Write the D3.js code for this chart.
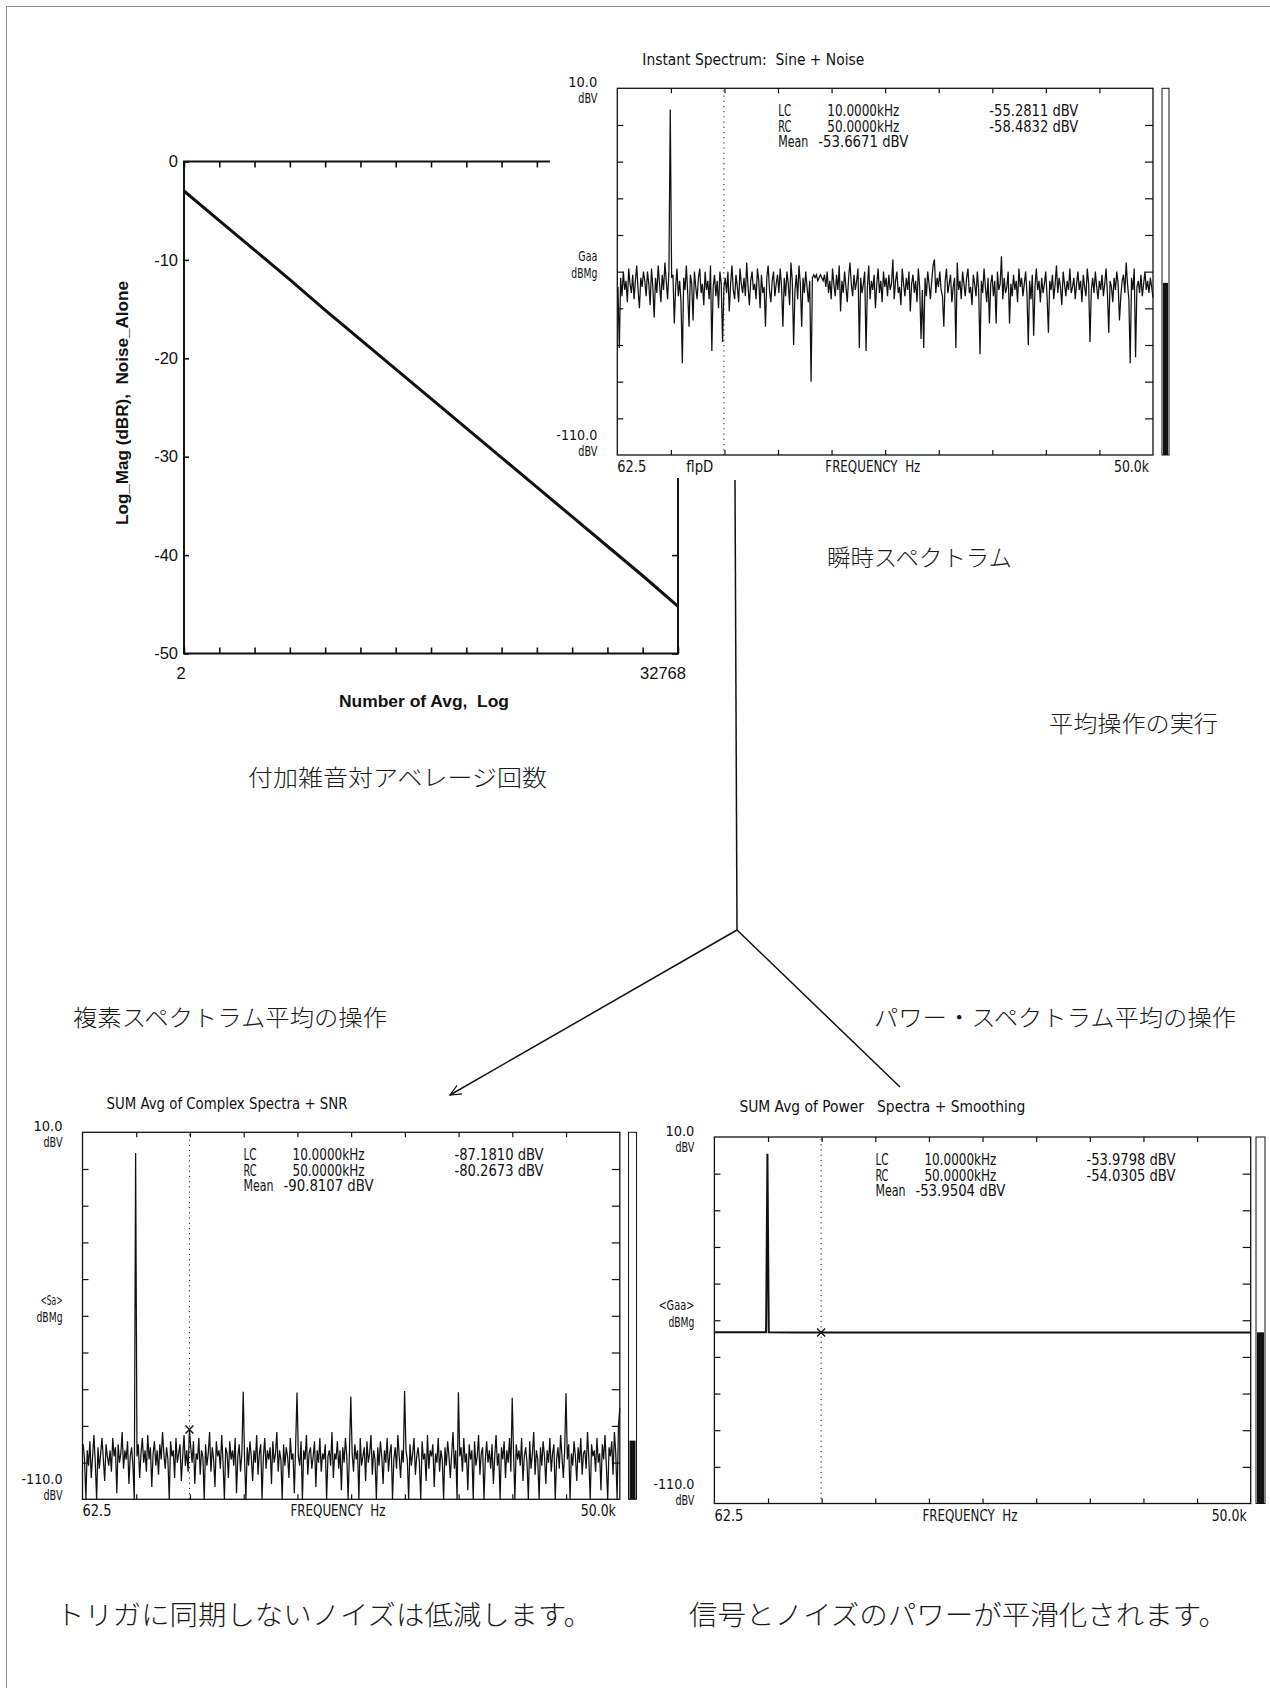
<!DOCTYPE html>
<html>
<head>
<meta charset="utf-8">
<script src="https://cdn.jsdelivr.net/npm/d3@7"></script>
<style>
  html, body { margin: 0; padding: 0; background: #fff; }
  svg { display: block; }
  text { white-space: pre; }
</style>
</head>
<body>
<svg id="page" width="1270" height="1688"></svg>
<script>
// ---------------- data ----------------
// Added noise vs. number of averages (log2 axis)
const avgCounts = [2, 4, 8, 16, 32, 64, 128, 256, 512, 1024, 2048, 4096, 8192, 16384, 32768];
const noiseAloneDb = [-3.0, -6.0, -9.0, -12.0, -15.1, -18.1, -21.1, -24.1, -27.1, -30.1, -33.1, -36.1, -39.1, -42.1, -45.2];
const noiseAxisTicks = [0, -10, -20, -30, -40, -50];
const avgTickLabels = ["2", "32768"];

// Analyzer display: 400 lines, 125 Hz apart, 125 Hz .. 50 kHz
const freqSpanHz = [62.5, 50000];
const dbvSpan = [-110, 10];
const binWidthHz = 125;
const cursorHz = [10000, 50000];   // LC, RC

// Instant spectrum: sine (5 kHz) + noise
const instantDbv = [
  -55,-75,-52,-58,-50,-56,-53,-60,-49,-54,-57,-51,-59,-53,-48,-56,-62,-52,-55,-50,
  -53,-58,-50,-54,-61,-49,-55,-65,-52,-57,-48,-54,-60,-51,-56,-47,-53,-59,-50,3.1,
  -52,-51,-67,-55,-49,-58,-53,-60,-80,-52,-56,-48,-57,-68,-51,-54,-66,-50,-55,-59,
  -52,-49,-57,-54,-61,-50,-56,-53,-59,-48,-76,-55,-51,-58,-53,-62,-50,-54,-73,-55.2811,
  -52,-57,-50,-63,-54,-48,-56,-59,-51,-55,-60,-49,-54,-57,-52,-58,-47,-55,-61,-53,
  -50,-56,-54,-59,-49,-53,-62,-51,-57,-55,-68,-52,-48,-56,-60,-53,-50,-58,-54,-51,
  -57,-49,-55,-68,-52,-58,-50,-54,-61,-47,-53,-74,-56,-51,-59,-48,-54,-68,-52,-57,
  -50,-55,-60,-53,-86,-52,-51,-52,-51,-53,-52,-51,-52,-53,-51,-55,-50,-57,-53,-59,
  -49,-54,-58,-51,-56,-48,-63,-53,-57,-50,-55,-60,-52,-47,-54,-58,-51,-56,-53,-49,
  -75,-52,-57,-54,-50,-76,-55,-48,-59,-53,-56,-51,-62,-54,-49,-57,-53,-60,-50,-55,
  -52,-58,-51,-56,-54,-46,-59,-53,-50,-57,-55,-61,-49,-54,-58,-52,-56,-50,-63,-54,
  -51,-57,-53,-60,-49,-55,-72,-56,-75,-52,-58,-50,-54,-59,-53,-48,-46,-57,-52,-55,
  -50,-56,-58,-68,-53,-49,-57,-54,-51,-60,-55,-52,-75,-47,-56,-53,-59,-50,-54,-58,
  -52,-49,-57,-55,-61,-51,-54,-58,-50,-56,-77,-53,-57,-49,-55,-60,-52,-67,-54,-51,
  -58,-53,-67,-50,-56,-54,-45,-59,-52,-57,-55,-50,-67,-54,-58,-51,-56,-53,-60,-49,
  -55,-52,-58,-54,-50,-57,-74,-53,-59,-51,-71,-55,-49,-56,-53,-60,-52,-57,-54,-50,
  -58,-70,-53,-56,-51,-59,-54,-48,-57,-52,-55,-61,-50,-54,-58,-53,-56,-49,-57,-55,
  -52,-59,-54,-50,-56,-53,-60,-51,-55,-58,-49,-54,-73,-56,-52,-57,-50,-55,-59,-53,
  -56,-51,-58,-54,-49,-57,-70,-53,-55,-60,-52,-56,-50,-54,-66,-58,-53,-51,-57,-47,
  -54,-59,-80,-52,-56,-49,-78,-55,-53,-57,-51,-58,-54,-50,-56,-53,-57,-52,-55,-58.4832
];
const instantMeanDbv = -53.6671;

// Sum average of complex spectra (time-synchronous averaging)
const complexAvgDbv = [
  -92,-97,-110,-94,-99,-91,-103,-96,-89,-98,-110,-93,-100,-95,-90,-97,-104,-92,-96,-99,
  -94,-101,-90,-96,-93,-108,-92,-98,-95,-88,-100,-94,-97,-91,-105,-96,-93,-99,-110,3.2,
  -96,-92,-103,-95,-90,-98,-94,-101,-89,-97,-93,-106,-95,-91,-99,-94,-102,-92,-97,-88,
  -95,-100,-93,-97,-110,-91,-96,-94,-103,-90,-98,-95,-92,-104,-96,-89,-99,-94,-101,-87.181,
  -93,-98,-91,-105,-95,-97,-90,-102,-94,-96,-110,-92,-99,-95,-88,-101,-93,-97,-106,-91,
  -96,-94,-100,-89,-98,-110,-93,-95,-103,-91,-97,-94,-99,-90,-108,-96,-92,-101,-95,-74.8,
  -97,-110,-93,-99,-91,-96,-104,-94,-98,-89,-102,-95,-92,-110,-96,-90,-100,-94,-97,-93,
  -105,-91,-98,-95,-88,-101,-94,-97,-110,-92,-99,-93,-96,-103,-90,-97,-95,-108,-92,-75.1,
  -96,-99,-91,-110,-94,-97,-89,-102,-95,-93,-100,-96,-91,-106,-94,-98,-90,-101,-95,-97,
  -92,-110,-96,-94,-99,-88,-103,-95,-97,-91,-100,-94,-107,-93,-98,-90,-96,-110,-94,-76.4,
  -95,-101,-92,-97,-94,-110,-90,-99,-96,-93,-104,-91,-98,-95,-89,-102,-94,-97,-110,-93,
  -99,-91,-96,-105,-94,-98,-90,-101,-95,-92,-110,-97,-93,-100,-89,-96,-103,-94,-98,-74.6,
  -94,-97,-110,-92,-99,-95,-90,-102,-96,-93,-98,-110,-91,-97,-95,-104,-89,-100,-94,-96,
  -92,-106,-95,-98,-90,-101,-94,-97,-110,-93,-99,-91,-96,-103,-95,-88,-100,-94,-110,-75.0,
  -96,-93,-101,-90,-98,-95,-107,-92,-97,-94,-110,-91,-99,-96,-89,-102,-95,-93,-110,-97,
  -91,-98,-94,-100,-92,-105,-96,-89,-99,-95,-110,-93,-97,-91,-103,-94,-98,-90,-101,-76.8,
  -95,-110,-92,-97,-94,-99,-90,-104,-96,-93,-98,-110,-91,-100,-95,-88,-102,-94,-97,-110,
  -93,-99,-91,-96,-105,-94,-98,-90,-101,-95,-92,-110,-97,-93,-100,-89,-96,-103,-94,-75.3,
  -97,-92,-110,-95,-99,-91,-96,-104,-93,-98,-90,-102,-95,-94,-100,-88,-97,-110,-92,-96,
  -94,-101,-90,-98,-95,-107,-92,-97,-89,-99,-110,-93,-96,-91,-102,-88,-95,-110,-86,-80.2673
];
const complexMeanDbv = -90.8107;

// Sum average of power spectra (smoothed)
const powerAvgHz = [125, 2500, 4875, 5000, 5125, 7500, 10000, 12500, 15000, 17500, 20000, 22500,
                    25000, 27500, 30000, 32500, 35000, 37500, 40000, 42500, 45000, 47500, 50000];
const powerAvgDbv = [-53.93, -53.95, -53.96, 4.5, -53.96, -53.97, -53.9798, -53.98, -53.99, -53.99, -54.00, -54.00,
                     -54.00, -54.01, -54.01, -54.01, -54.02, -54.02, -54.02, -54.02, -54.03, -54.03, -54.0305];
const powerMeanDbv = -53.9504;

// ---------------- drawing ----------------
const svg = d3.select("#page");
const INK = "#111";
const INSTR = "'Liberation Sans Narrow','Arial Narrow','DejaVu Sans Condensed','DejaVu Sans',sans-serif";
const ARIAL = "'Liberation Sans',Arial,Helvetica,sans-serif";
const JP = "'Noto Sans CJK JP','Noto Sans CJK SC',sans-serif";

function addText(parent, x, y, str, o = {}) {
  const t = parent.append("text")
    .attr("x", x).attr("y", y).text(str)
    .attr("font-family", o.family || INSTR)
    .attr("font-size", o.size || 15)
    .attr("text-anchor", o.anchor || "start")
    .attr("fill", o.fill || INK);
  if (o.weight) t.attr("font-weight", o.weight);
  if (o.width) t.attr("textLength", o.width).attr("lengthAdjust", "spacingAndGlyphs");
  return t;
}

// page frame (left and top edges)
svg.append("path").attr("d", "M6.5,1688 V6.5 H1270")
  .attr("fill", "none").attr("stroke", "#8c8c8c").attr("stroke-width", 1);

// ===== Noise vs. number of averages =====
(function noiseChart() {
  const L = { left: 184, right: 678, top: 161.5, bottom: 653.5 };
  const g = svg.append("g");
  const x = d3.scaleLog().base(2).domain([avgCounts[0], avgCounts[avgCounts.length - 1]]).range([L.left, L.right]);
  const y = d3.scaleLinear().domain([-50, 0]).range([L.bottom, L.top]);

  const styleAxis = a => a.call(s => s.select(".domain").remove())
    .call(s => s.selectAll("line").attr("stroke", INK).attr("stroke-width", 1.6));

  g.append("g").attr("transform", `translate(0,${L.top})`)
    .call(d3.axisTop(x).tickValues(avgCounts).tickSize(-6).tickFormat("")).call(styleAxis);
  g.append("g").attr("transform", `translate(0,${L.bottom})`)
    .call(d3.axisBottom(x).tickValues(avgCounts).tickSize(-6).tickFormat("")).call(styleAxis);
  g.append("g").attr("transform", `translate(${L.right},0)`)
    .call(d3.axisRight(y).tickValues(noiseAxisTicks).tickSize(-6).tickFormat("")).call(styleAxis);
  g.append("g").attr("transform", `translate(${L.left},0)`)
    .call(d3.axisLeft(y).tickValues(noiseAxisTicks).tickSize(-5).tickPadding(6).tickFormat(d => String(d)))
    .call(styleAxis)
    .call(s => s.selectAll("text").attr("font-family", ARIAL).attr("font-size", 16.5).attr("fill", INK));

  g.append("rect").attr("x", L.left).attr("y", L.top)
    .attr("width", L.right - L.left).attr("height", L.bottom - L.top)
    .attr("fill", "none").attr("stroke", INK).attr("stroke-width", 2);

  const pts = avgCounts.map((n, i) => [x(n), y(noiseAloneDb[i])]);
  g.append("path").attr("d", d3.line()(pts))
    .attr("fill", "none").attr("stroke", INK).attr("stroke-width", 3);

  addText(g, x(avgCounts[0]) - 3, 679, avgTickLabels[0], { family: ARIAL, size: 16.5, anchor: "middle" });
  addText(g, x(avgCounts[avgCounts.length - 1]) - 15, 679, avgTickLabels[1], { family: ARIAL, size: 16.5, anchor: "middle" });
  addText(g, 424, 707, "Number of Avg,  Log", { family: ARIAL, size: 16, weight: "bold", anchor: "middle", width: 170 });
  addText(g, 0, 0, "Log_Mag (dBR),  Noise_Alone", { family: ARIAL, size: 16, weight: "bold", anchor: "middle", width: 244 })
    .attr("transform", "translate(128,403) rotate(-90)");
})();

// white backing of the instant spectrum screen (it sits over the noise chart)
svg.append("rect").attr("x", 550).attr("y", 28).attr("width", 640).attr("height", 450).attr("fill", "#fff");

// ===== Analyzer screen =====
const fmtHz = f => (f / 1000).toFixed(4) + "kHz";
const fmtDb = v => v.toFixed(4) + " dBV";

function spectrumPanel(p) {
  const g = svg.append("g");
  const x = d3.scaleLinear().domain(freqSpanHz).range([p.left, p.right]);
  const y = d3.scaleLinear().domain(dbvSpan).range([p.bottom, p.top]).clamp(true);
  const xDivs = d3.range(1, 10).map(k => freqSpanHz[0] + k * (freqSpanHz[1] - freqSpanHz[0]) / 10);
  const yDivs = d3.range(1, 10).map(k => dbvSpan[0] + k * (dbvSpan[1] - dbvSpan[0]) / 10);
  const styleAxis = a => a.call(s => s.select(".domain").remove())
    .call(s => s.selectAll("line").attr("stroke", INK).attr("stroke-width", 1.2));

  g.append("g").attr("transform", `translate(0,${p.top})`)
    .call(d3.axisTop(x).tickValues(xDivs).tickSize(-5).tickFormat("")).call(styleAxis);
  g.append("g").attr("transform", `translate(0,${p.bottom})`)
    .call(d3.axisBottom(x).tickValues(xDivs).tickSize(-5).tickFormat("")).call(styleAxis);
  g.append("g").attr("transform", `translate(${p.left},0)`)
    .call(d3.axisLeft(y).tickValues(yDivs).tickSize(-6).tickFormat("")).call(styleAxis);
  g.append("g").attr("transform", `translate(${p.right},0)`)
    .call(d3.axisRight(y).tickValues(yDivs).tickSize(-8).tickFormat("")).call(styleAxis);

  g.append("rect").attr("x", p.left).attr("y", p.top)
    .attr("width", p.right - p.left).attr("height", p.bottom - p.top)
    .attr("fill", "none").attr("stroke", INK).attr("stroke-width", 1.3);

  // LC cursor
  g.append("line").attr("x1", x(cursorHz[0])).attr("x2", x(cursorHz[0]))
    .attr("y1", p.top + 2).attr("y2", p.bottom)
    .attr("stroke", INK).attr("stroke-width", 1).attr("stroke-dasharray", "1.2,4");

  // trace
  const pts = p.freqs.map((f, i) => [x(f), y(p.values[i])]);
  g.append("path").attr("d", d3.line()(pts))
    .attr("fill", "none").attr("stroke", INK).attr("stroke-width", p.stroke)
    .attr("stroke-linejoin", "miter");

  const lcVal = p.values[p.freqs.indexOf(cursorHz[0])];
  const rcVal = p.values[p.freqs.indexOf(cursorHz[1])];

  if (p.marker) {
    const mx = x(cursorHz[0]), my = y(lcVal), r = 4;
    g.append("path").attr("d", `M${mx - r},${my - r}L${mx + r},${my + r}M${mx - r},${my + r}L${mx + r},${my - r}`)
      .attr("stroke", INK).attr("stroke-width", 1.4);
  }

  // level bar at the right of the screen
  const bw = p.barW;
  g.append("rect").attr("x", p.barX).attr("y", p.top).attr("width", bw).attr("height", p.bottom - p.top)
    .attr("fill", "#fff").attr("stroke", INK).attr("stroke-width", 1);
  g.append("rect").attr("x", p.barX + 1).attr("y", y(p.mean)).attr("width", bw - 2).attr("height", p.bottom - y(p.mean))
    .attr("fill", INK);

  // title
  addText(g, p.left + p.titleDx, p.top + p.titleDy, p.title, { size: 16, width: p.titleW });

  // y labels
  const yl = p.left - 20;
  addText(g, yl, p.top - 1, "10.0", { anchor: "end", size: 14, width: 29 });
  addText(g, yl, p.top + 15, "dBV", { anchor: "end", size: 14, width: 19 });
  addText(g, yl, p.top + 173, p.yName, { anchor: "end", size: 14, width: p.yNameW });
  addText(g, yl, p.top + 190, "dBMg", { anchor: "end", size: 14, width: 26 });
  addText(g, yl, p.bottom - 15, "-110.0", { anchor: "end", size: 14, width: 41 });
  addText(g, yl, p.bottom + 1, "dBV", { anchor: "end", size: 14, width: 19 });

  // cursor readout
  const c1 = p.left + 161, c2 = p.left + 210, c3 = p.left + 372, r0 = p.top + 28;
  addText(g, c1, r0, "LC", { width: 13 });
  addText(g, c2, r0, fmtHz(cursorHz[0]), { width: 72 });
  addText(g, c3, r0, fmtDb(lcVal), { width: 89 });
  addText(g, c1, r0 + 15.5, "RC", { width: 13 });
  addText(g, c2, r0 + 15.5, fmtHz(cursorHz[1]), { width: 72 });
  addText(g, c3, r0 + 15.5, fmtDb(rcVal), { width: 89 });
  addText(g, c1, r0 + 31, "Mean", { width: 30 });
  addText(g, p.left + 201, r0 + 31, fmtDb(p.mean), { width: 90 });

  // x labels
  const xb = p.bottom + 17;
  addText(g, p.left, xb, "62.5", { width: 29 });
  if (p.flag) addText(g, p.left + 69, xb, p.flag, { width: 27 });
  addText(g, p.left + 208, xb, "FREQUENCY  Hz", { width: 95 });
  addText(g, p.right - 4, xb, "50.0k", { anchor: "end", width: 35 });
  return g;
}

const binsHz = instantDbv.map((_, i) => (i + 1) * binWidthHz);

spectrumPanel({
  left: 617.3, right: 1153, top: 88.3, bottom: 455,
  barX: 1162, barW: 7,
  freqs: binsHz, values: instantDbv, mean: instantMeanDbv, stroke: 1.25,
  title: "Instant Spectrum:  Sine + Noise", titleDx: 25, titleDy: -23, titleW: 222,
  yName: "Gaa", yNameW: 19, flag: "flpD", marker: false
});

spectrumPanel({
  left: 82.5, right: 619.8, top: 1132.3, bottom: 1499.3,
  barX: 628.5, barW: 8,
  freqs: complexAvgDbv.map((_, i) => (i + 1) * binWidthHz), values: complexAvgDbv, mean: complexMeanDbv, stroke: 1.25,
  title: "SUM Avg of Complex Spectra + SNR", titleDx: 24, titleDy: -23, titleW: 241,
  yName: "<Sa>", yNameW: 22, marker: true
});

spectrumPanel({
  left: 714.4, right: 1250.7, top: 1137, bottom: 1503.5,
  barX: 1256, barW: 9,
  freqs: powerAvgHz, values: powerAvgDbv, mean: powerMeanDbv, stroke: 2,
  title: "SUM Avg of Power   Spectra + Smoothing", titleDx: 25, titleDy: -25, titleW: 286,
  yName: "<Gaa>", yNameW: 36, marker: true
});

// ===== flow connectors =====
(function connectors() {
  const g = svg.append("g").attr("fill", "none").attr("stroke", INK).attr("stroke-width", 1.5);
  const hub = [737, 930];
  g.append("path").attr("d", `M735,480 L${hub[0]},${hub[1]}`);
  const tipL = [450, 1095], tipR = [900, 1087];
  g.append("path").attr("d", `M${hub[0]},${hub[1]} L${tipL[0]},${tipL[1]}`);
  g.append("path").attr("d", `M${hub[0]},${hub[1]} L${tipR[0]},${tipR[1]}`);
  // open arrow head on the left branch
  const ang = Math.atan2(hub[1] - tipL[1], hub[0] - tipL[0]);
  const len = 12, spread = 0.42;
  const a1 = [tipL[0] + len * Math.cos(ang + spread), tipL[1] + len * Math.sin(ang + spread)];
  const a2 = [tipL[0] + len * Math.cos(ang - spread), tipL[1] + len * Math.sin(ang - spread)];
  g.append("path").attr("d", `M${a1[0]},${a1[1]} L${tipL[0]},${tipL[1]} L${a2[0]},${a2[1]}`)
    .attr("stroke-width", 1.2);
})();

// ===== captions =====
const cap = svg.append("g");
const capStyle = (size, width) => ({ family: JP, size, width, fill: "#1a1a1a", weight: 300 });
addText(cap, 827, 566, "瞬時スペクトラム", capStyle(23, 185));
addText(cap, 1049, 732, "平均操作の実行", capStyle(23, 169));
addText(cap, 248, 786, "付加雑音対アベレージ回数", capStyle(23, 299));
addText(cap, 73, 1026, "複素スペクトラム平均の操作", capStyle(23, 314));
addText(cap, 874, 1026, "パワー・スペクトラム平均の操作", capStyle(23, 362));
addText(cap, 56, 1625, "トリガに同期しないノイズは低減します。", capStyle(27, 536));
addText(cap, 689, 1625, "信号とノイズのパワーが平滑化されます。", capStyle(27, 538));
</script>
</body>
</html>
